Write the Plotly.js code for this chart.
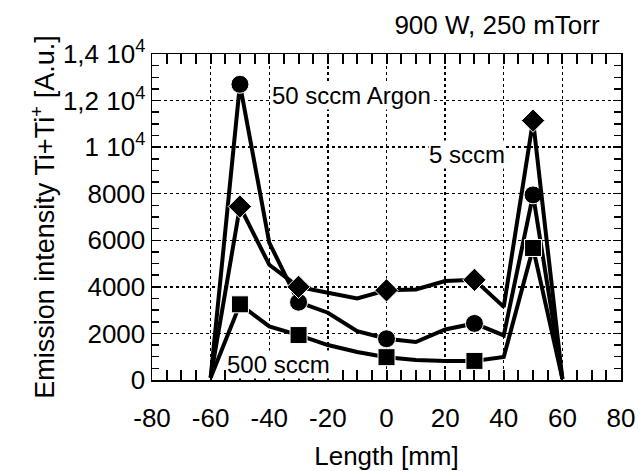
<!DOCTYPE html>
<html>
<head>
<meta charset="utf-8">
<script src="https://cdn.plot.ly/plotly-3.0.1.min.js"></script>
<style>html,body{margin:0;padding:0;background:#fff;}#chart{width:638px;height:471px;}</style>
</head>
<body>
<div id="chart"></div>
<script>
// Data
const lengthMm = [-60, -50, -40, -30, -20, -10, 0, 10, 20, 30, 40, 50, 60];
const markedX = [-50, -30, 0, 30, 50];
const argon50 = [100, 12700, 5900, 3340, 2890, 2100, 1770, 1630, 2170, 2430, 1915, 7950, 50];
const argon5 = [100, 7450, 4950, 4000, 3750, 3500, 3850, 3885, 4250, 4300, 3140, 11140, 50];
const argon500 = [100, 3250, 2300, 1930, 1500, 1200, 980, 860, 820, 820, 985, 5670, 50];
const yTickVals = [0, 2000, 4000, 6000, 8000, 10000, 12000, 14000];
const yTickText = ["0", "2000", "4000", "6000", "8000", "1 10<sup>4</sup>", "1,2 10<sup>4</sup>", "1,4 10<sup>4</sup>"];
const xTickVals = [-80, -60, -40, -20, 0, 20, 40, 60, 80];
const xTickText = ["-80", "-60", "-40", "-20", "0", "20", "40", "60", "80"];
const labels = [
  {text: "50 sccm Argon", x: -11.9, y: 12236},
  {text: "5 sccm", x: 27.5, y: 9665},
  {text: "500 sccm", x: -36.8, y: 670}
];

const FONT = "Liberation Sans, Arial, Helvetica, sans-serif";
const xRange = [-80, 80];
const yRange = [0, 14000];

function sizes(sz) { return lengthMm.map(x => markedX.includes(x) ? sz : 0); }

const traces = [
  {x: lengthMm, y: argon50, mode: "lines+markers", line: {color: "black", width: 4},
   marker: {symbol: "circle", size: sizes(18), color: "black", opacity: 1}},
  {x: lengthMm, y: argon5, mode: "lines+markers", line: {color: "black", width: 4},
   marker: {symbol: "diamond", size: sizes(18), color: "black", opacity: 1}},
  {x: lengthMm, y: argon500, mode: "lines+markers", line: {color: "black", width: 4},
   marker: {symbol: "square", size: sizes(17), color: "black", opacity: 1}},
  {x: [], y: [], xaxis: "x2", yaxis: "y2", mode: "lines", hoverinfo: "skip", showlegend: false}
];

const layout = {
  width: 638, height: 471,
  margin: {l: 152, r: 17, t: 54, b: 91},
  paper_bgcolor: "white", plot_bgcolor: "white",
  showlegend: false,
  font: {family: FONT, color: "black"},
  title: {text: "900 W, 250 mTorr", x: 497/638, xanchor: "center", y: 1 - 25/471, yanchor: "middle",
          font: {family: FONT, size: 26, color: "black"}},
  xaxis: {
    range: xRange, tickmode: "array", tickvals: xTickVals, ticktext: xTickText,
    showline: true, linecolor: "black", linewidth: 1.5, mirror: "allticks",
    ticks: "inside", ticklen: 8, tickwidth: 1.5, tickcolor: "black",
    showgrid: true, gridcolor: "black", griddash: "dot", gridwidth: 1.3, zeroline: false,
    tickfont: {family: FONT, size: 26, color: "black"},
    ticklabelstandoff: 14,
    title: {text: "Length [mm]", standoff: 20, font: {family: FONT, size: 26, color: "black"}}
  },
  yaxis: {
    range: yRange, tickmode: "array", tickvals: yTickVals, ticktext: yTickText,
    showline: true, linecolor: "black", linewidth: 1.5, mirror: "allticks",
    ticks: "inside", ticklen: 8, tickwidth: 1.5, tickcolor: "black",
    showgrid: true, gridcolor: "black", griddash: "dot", gridwidth: 1.3, zeroline: false,
    tickfont: {family: FONT, size: 26, color: "black"},
    ticksuffix: "  ",
    title: {text: "Emission intensity Ti+Ti<sup>+</sup> [A.u.]", standoff: 0, font: {family: FONT, size: 27, color: "black"}}
  },
  xaxis2: {range: xRange, dtick: 5, tickmode: "linear", overlaying: "x", anchor: "y2", side: "bottom",
    ticks: "inside", ticklen: 10, tickcolor: "black", tickwidth: 2, mirror: "ticks",
    showticklabels: false, showgrid: false, zeroline: false},
  yaxis2: {range: yRange, dtick: 500, tickmode: "linear", overlaying: "y", anchor: "x2", side: "left",
    ticks: "inside", ticklen: 7, tickcolor: "black", tickwidth: 1.5, mirror: "ticks",
    showticklabels: false, showgrid: false, zeroline: false},
  annotations: labels.map(l => ({
    text: l.text, x: l.x, y: l.y, xref: "x", yref: "y", showarrow: false,
    xanchor: "center", yanchor: "middle", bgcolor: "white", borderpad: 0,
    font: {family: FONT, size: 24, color: "black"}
  }))
};

Plotly.newPlot("chart", traces, layout, {displayModeBar: false, staticPlot: true});
</script>
</body>
</html>
